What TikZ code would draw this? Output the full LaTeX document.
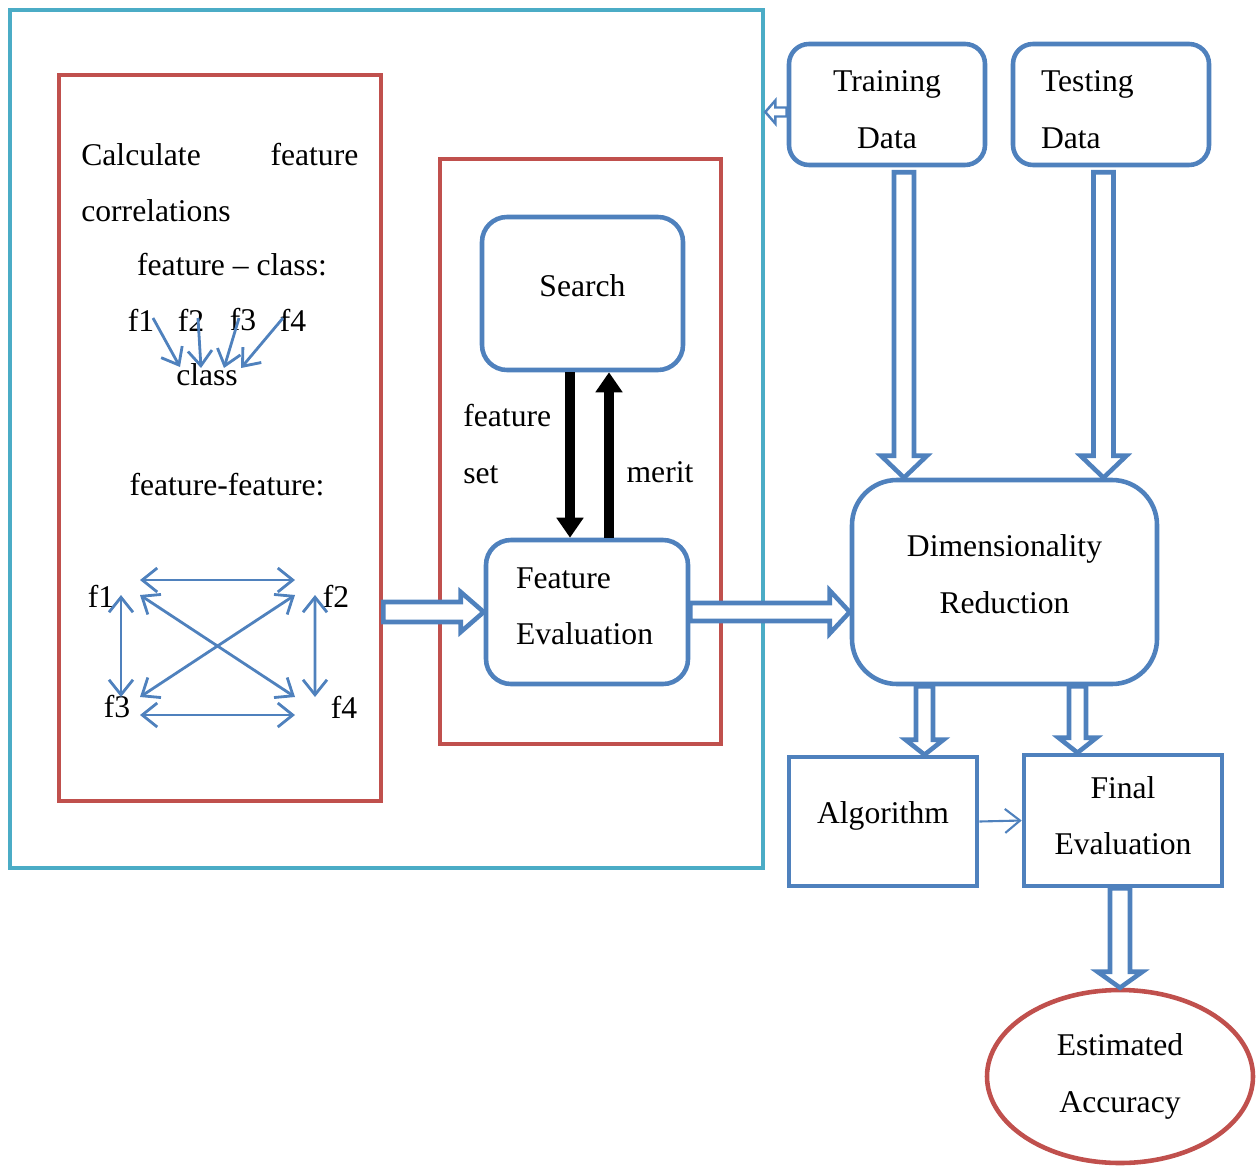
\documentclass[tikz,border=0pt]{standalone}
\usepackage{fontspec}
\setmainfont{Liberation Serif}
\usetikzlibrary{arrows.meta}
\usetikzlibrary{calc}
\usetikzlibrary{shapes.geometric}

\definecolor{myblue}{RGB}{79,129,189}
\definecolor{myred}{RGB}{192,80,77}
\definecolor{mycyan}{RGB}{75,172,198}

\def\shaftw{0.2cm}
\def\headw{0.4cm}
\def\headl{0.46cm}

\begin{document}
\begin{tikzpicture}[
    every node/.style={font=\fontsize{18}{32}\selectfont, inner sep=0pt},
    box/.style={draw=myblue, line width=2.6pt, fill=white, inner sep=0pt},
    redbox/.style={draw=myred, line width=2.6pt, inner sep=0pt},
    thinarr/.style={myblue, line width=1.6pt, >={Straight Barb[length=0.3cm,width=0.48cm]}},
    blackarr/.style={black, line width=0.2cm, -{Triangle[width=0.52cm,length=0.4cm]}},
    dims/.code args={#1/#2/#3}{\def\shaftw{#1}\def\headw{#2}\def\headl{#3}},
    hollow/.style={draw=myblue, line width=2.6pt, fill=white, line join=miter,
        to path={($(\tikztostart)!\shaftw!90:(\tikztotarget)$)
            -- ($(\tikztotarget)!\headl!(\tikztostart)!\shaftw!-90:(\tikztostart)$)
            -- ($(\tikztotarget)!\headl!(\tikztostart)!\headw!-90:(\tikztostart)$)
            -- (\tikztotarget)
            -- ($(\tikztotarget)!\headl!(\tikztostart)!\headw!90:(\tikztostart)$)
            -- ($(\tikztotarget)!\headl!(\tikztostart)!\shaftw!90:(\tikztostart)$)
            -- ($(\tikztostart)!\shaftw!-90:(\tikztotarget)$) -- cycle}}
    ]
                \useasboundingbox (0,0) rectangle (25.12,-23.3);

                \node[draw=mycyan, line width=2.6pt, minimum width=15.06cm, minimum height=17.16cm] (frame) at (7.73,-8.78) {};
                \node[redbox, minimum width=6.44cm, minimum height=14.52cm] (redleft) at (4.40,-8.76) {};
                \node[redbox, minimum width=5.62cm, minimum height=11.70cm] (redmid) at (11.61,-9.03) {};

                \node[box, rounded corners=0.5cm, minimum width=4.02cm, minimum height=3.06cm, text depth=0.32cm] (search) at (11.65,-5.87) {Search};
                \node[box, rounded corners=0.5cm, minimum width=4.04cm, minimum height=2.88cm, align=left, text width=2.84cm, inner xsep=0.6cm, text depth=1.36cm] (feval) at (11.74,-12.24) {Feature\\Evaluation};
                \node[box, rounded corners=0.4cm, minimum width=3.92cm, minimum height=2.42cm, align=center, text width=2.8cm, inner xsep=0.56cm, text depth=0.92cm] (train) at (17.74,-2.09) {Training\\Data};
                \node[box, rounded corners=0.4cm, minimum width=3.92cm, minimum height=2.42cm, align=left, text width=2.8cm, inner xsep=0.56cm, text depth=0.92cm] (test) at (22.22,-2.09) {Testing\\Data};
                \node[box, rounded corners=0.9cm, minimum width=6.10cm, minimum height=4.08cm, align=center, text depth=0.32cm] (dimred) at (20.09,-11.64) {Dimensionality\\Reduction};
                \node[box, minimum width=3.76cm, minimum height=2.58cm, text depth=0.34cm] (algo) at (17.66,-16.43) {Algorithm};
                \node[box, minimum width=3.96cm, minimum height=2.62cm, align=center, text depth=0.2cm] (final) at (22.46,-16.41) {Final\\Evaluation};
                \node[draw=myred, line width=2.6pt, ellipse, minimum width=5.32cm, minimum height=3.46cm, align=center] (acc) at (22.40,-21.53) {Estimated\\Accuracy};

                \node[anchor=north west, text width=5.54cm, align=justify] (calc) at (1.62,-2.86) {Calculate feature \mbox{correlations}};
                \node (fc) at (4.64,-5.30) {feature -- class:};
                \node (f1) at (2.82,-6.40) {f1};
                \node (f2) at (3.82,-6.40) {f2};
                \node (f3) at (4.86,-6.40) {f3};
                \node (f4) at (5.86,-6.40) {f4};
                \node (cls) at (4.14,-7.50) {class};
                \node (ff) at (4.54,-9.70) {feature-feature:};
                \node (g1) at (2.02,-11.92) {f1};
                \node (g2) at (6.72,-11.92) {f2};
                \node (g3) at (2.34,-14.14) {f3};
                \node (g4) at (6.88,-14.14) {f4};
                \node[anchor=west, align=left] (fs) at (9.26,-8.88) {feature\\set};
                \node (merit) at (13.20,-9.44) {merit};

                \draw[thinarr, ->] ([shift={(0.24,0.04)}]f1.center) -- ([shift={(-0.54,0.16)}]cls.center);
                \draw[thinarr, ->] ([shift={(0.14,0.04)}]f2.center) -- ([shift={(-0.12,0.14)}]cls.center);
                \draw[thinarr, ->] ([shift={(-0.08,0.04)}]f3.center) -- ([shift={(0.34,0.14)}]cls.center);
                \draw[thinarr, ->] ([shift={(-0.20,0.04)}]f4.center) -- ([shift={(0.68,0.14)}]cls.center);

                \draw[thinarr, <->] ([shift={(0.78,0.32)}]g1.center) -- ([shift={(-0.82,0.32)}]g2.center);
                \draw[thinarr, <->] ([shift={(0.40,0.02)}]g1.center) -- ([shift={(0.08,0.20)}]g3.center);
                \draw[thinarr, <->] ([shift={(-0.42,0.02)}]g2.center) -- ([shift={(-0.58,0.20)}]g4.center);
                \draw[thinarr, <->] ([shift={(0.78,0.02)}]g1.center) -- ([shift={(-0.98,0.20)}]g4.center);
                \draw[thinarr, <->] ([shift={(-0.82,0.02)}]g2.center) -- ([shift={(0.46,0.20)}]g3.center);
                \draw[thinarr, <->] ([shift={(0.46,-0.16)}]g3.center) -- ([shift={(-0.98,-0.16)}]g4.center);
                \draw[thinarr, line width=1.2pt, ->] (algo.east) -- (final.west);

                \draw[blackarr] ([xshift=-0.25cm]search.south) -- ([xshift=-0.25cm]search.south |- feval.north);
                \draw[blackarr] ([xshift=0.44cm]feval.north) -- ([xshift=0.44cm]feval.north |- search.south);

                \draw[hollow, dims=0.2cm/0.4cm/0.46cm] (redleft.east |- feval.west) to (feval.west);
                \draw[hollow, dims=0.18cm/0.43cm/0.4cm] (feval.east) to (feval.east -| dimred.west);
                \draw[hollow, dims=0.2cm/0.46cm/0.44cm] ([shift={(0.34,-0.1)}]train.south) to ([xshift=0.34cm]train.south |- dimred.north);
                \draw[hollow, dims=0.2cm/0.46cm/0.44cm] ([shift={(-0.15,-0.1)}]test.south) to ([xshift=-0.15cm]test.south |- dimred.north);
                \draw[hollow, dims=0.17cm/0.38cm/0.3cm] ([xshift=0.83cm]algo.north |- dimred.south) to ([xshift=0.83cm]algo.north);
                \draw[hollow, dims=0.17cm/0.38cm/0.3cm] ([xshift=-0.91cm]final.north |- dimred.south) to ([xshift=-0.91cm]final.north);
                \draw[hollow, dims=0.2cm/0.45cm/0.32cm] (final.south -| acc.north) to (acc.north);
                \draw[hollow, line width=1.4pt, dims=0.09cm/0.23cm/0.2cm] ([yshift=-0.15cm]train.west) to ([yshift=-0.15cm]train.west -| frame.east);

            \end{tikzpicture}
\end{document}
